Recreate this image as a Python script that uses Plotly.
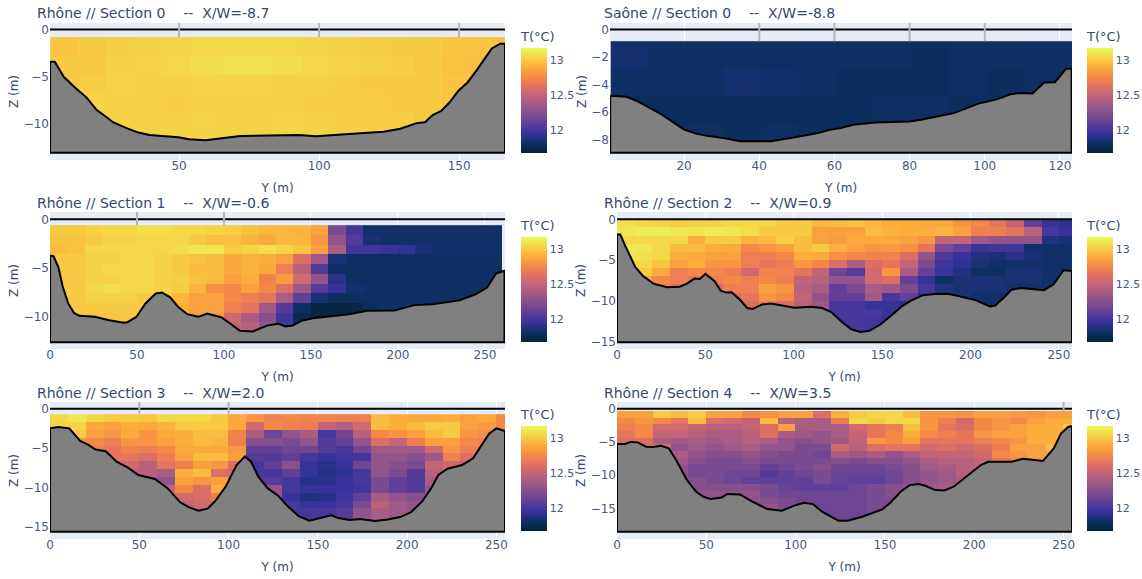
import plotly.graph_objects as go

W, H = 1142, 579
NB = "\u00a0"
TITLES = [f"Rhône // Section 0{NB*4}--{NB*2}X/W=-8.7", f"Saône // Section 0{NB*4}--{NB*2}X/W=-8.8",
          f"Rhône // Section 1{NB*4}--{NB*2}X/W=-0.6", f"Rhône // Section 2{NB*4}--{NB*2}X/W=0.9",
          f"Rhône // Section 3{NB*4}--{NB*2}X/W=2.0", f"Rhône // Section 4{NB*4}--{NB*2}X/W=3.5"]

# bed profiles (Y, Z)
bed0_y = [3.9,5.6,8.8,12.7,17,20.5,23.8,26.4,31,35.5,39.4,49.7,53.6,59.5,65.3,71.8,92.6,99,108,116.5,123,129,134.8,137.8,140.6,143.6,146.5,149.7,153,156.2,158.8,161.7,164.7,166.4]
bed0_z = [-3.4,-3.4,-5,-6.1,-7.2,-8.5,-9.2,-9.8,-10.4,-10.9,-11.15,-11.4,-11.6,-11.7,-11.5,-11.25,-11.15,-11.3,-11.1,-10.9,-10.8,-10.5,-9.9,-9.8,-9.05,-8.6,-7.75,-6.5,-5.6,-4.35,-3.3,-2,-1.5,-1.5]
bed1_y = [0.35,4.7,7.6,14,20,23.2,26.1,30.5,34.9,43.1,49.9,55.7,58.8,61.6,65,70.8,80,83,87,91.8,94.7,98.1,103.4,106.8,109.3,112.7,115.8,118.7,121.6,123.1]
bed1_z = [-4.8,-4.88,-5.2,-6.15,-7.25,-7.55,-7.7,-7.87,-8.1,-8.1,-7.8,-7.5,-7.27,-7.15,-6.9,-6.74,-6.67,-6.55,-6.33,-6.06,-5.75,-5.39,-5.05,-4.7,-4.6,-4.64,-3.84,-3.82,-2.85,-2.85]
bed2_y = [0,2,4.8,7.3,10.4,13.8,16.9,25.7,34,42.4,44.5,49.7,54.9,60.8,64.3,69.1,73.7,78.9,85.2,90.4,98.7,104,109.2,116.5,124.8,131.1,135.3,139.5,144.7,151,159.3,171.8,182.3,198,209.4,219.8,235.5,244.9,251.2,256.4,261.2]
bed2_z = [-3.7,-3.77,-4.9,-6.9,-8.6,-9.6,-9.9,-10,-10.35,-10.6,-10.55,-10,-8.63,-7.6,-7.5,-8,-9,-9.73,-10,-9.66,-10.07,-10.8,-11.44,-11.5,-10.9,-10.7,-11,-10.9,-10.4,-10.14,-10,-9.73,-9.38,-9.35,-8.8,-8.7,-8.3,-7.67,-7,-5.55,-5.27]
bed3_y = [0,1.9,4.5,10.3,14.9,20.6,28.3,35.5,39.6,43.8,46.9,50,55.1,58.6,61.9,64.8,69.6,73.7,76.8,82,87.1,94.3,100.5,109.8,116,121.2,127.4,132.5,137.7,142.8,149,155.2,161.4,166.6,172.8,180,187.2,192.4,202.7,211,214,219.2,223.3,228.5,235.7,241.5,247,252.6,257.4]
bed3_z = [-1.85,-1.85,-3.17,-5.84,-7,-7.9,-8.35,-8.27,-7.9,-7.28,-7.33,-6.7,-7.57,-8.77,-9,-8.97,-9.88,-10.9,-11,-10.45,-10.33,-10.6,-10.86,-10.74,-10.9,-11.4,-12.63,-13.5,-13.83,-13.7,-12.92,-11.8,-10.66,-9.96,-9.34,-9.18,-9.14,-9.38,-9.92,-10.7,-10.58,-9.55,-8.64,-8.44,-8.64,-8.72,-7.98,-6.25,-6.34]
bed4_y = [0,4.7,10.8,13.8,16.9,21,25.5,31.2,37.3,43.4,49.5,58.7,65.8,72.9,78,83.1,88.2,92.3,98.4,104.5,109.2,112.6,116.7,121.8,127.9,133,139.1,145.2,151.3,157.4,161.5,167.6,173.7,181.9,189,196.1,202.2,208.3,213.4,217.5,222.6,230.8,236.9,241,246,250,254.8]
bed4_z = [-2.5,-2.33,-2.5,-3.35,-4.1,-4.53,-5.2,-5.4,-6.74,-7.46,-8.43,-8.94,-10.1,-11.9,-12.54,-12.97,-12.7,-11.8,-9.9,-7.16,-6.06,-6.74,-8.64,-10.1,-11.1,-12.37,-13.64,-14.24,-13.94,-13.56,-13.9,-14.15,-14.03,-14.28,-14.07,-13.77,-13.14,-11.82,-10.13,-8.43,-7.63,-7.16,-6.31,-4.83,-3.14,-2.5,-2.84]
bed5_y = [0,4.5,7.6,11.6,16.3,20.4,24.5,29,33.1,39.2,44.3,48.4,52.5,58.6,61.7,68.8,76,84.2,92.3,98.5,104.6,109.7,114.8,124,129.1,137.3,148.5,153.6,158.7,163.8,168.9,173,178.1,183.2,188.4,195.5,203.7,207.8,221,227.2,233.3,238.4,244.5,248.6,252.7,254.7]
bed5_z = [-5.3,-5.3,-5,-5.07,-5.72,-5.77,-5.57,-5.97,-7.73,-10.74,-12.5,-13.25,-13.6,-13.35,-12.85,-12.9,-14,-15.1,-15.35,-14.65,-14.15,-14.35,-15.5,-16.86,-16.86,-16.26,-15.15,-14,-12.5,-11.5,-11.34,-11.64,-12.24,-12.3,-11.74,-10.24,-8.48,-7.98,-7.98,-7.53,-7.73,-7.88,-5.97,-3.71,-2.71,-2.66]
bed_floor = [-13.04, -8.93, -12.6, -15.1, -15.63, -18.5]

# temperature grids, one row per depth (top to bottom)
temp0 = [
 [12.98,13.0,13.02,13.03,13.04,13.05,13.05,13.05,13.05,13.04,13.03,13.02,13.01,13.0,12.98,12.98,12.96],
 [13.0,13.01,13.03,13.04,13.05,13.07,13.08,13.08,13.07,13.05,13.04,13.03,13.02,13.0,12.97,12.96,12.96],
 [13.0,13.02,13.04,13.03,13.03,13.04,13.04,13.04,13.03,13.03,13.02,13.01,13.0,13.0,12.98,12.97,12.97],
 [13.0,13.04,13.03,13.03,13.02,13.03,13.03,13.03,13.03,13.02,13.02,13.02,13.01,13.0,12.98,12.98,12.98],
 [13.0,13.02,13.03,13.03,13.03,13.04,13.03,13.03,13.04,13.03,13.02,13.02,13.02,13.0,13.0,12.97,12.97],
 [13.0,13.02,13.03,13.03,13.03,13.03,13.03,13.03,13.03,13.03,13.02,13.02,13.01,13.0,12.98,12.97,12.97]]
temp1 = [
 [11.83,11.81,11.80,11.81,11.80,11.81,11.80,11.80,11.79,11.80,11.80,11.81,11.81],
 [11.81,11.80,11.81,11.83,11.82,11.80,11.79,11.79,11.78,11.80,11.79,11.80,11.83],
 [11.78,11.78,11.79,11.79,11.79,11.78,11.79,11.80,11.81,11.79,11.79,11.78,11.78],
 [11.78,11.78,11.80,11.79,11.80,11.79,11.78,11.78,11.78,11.78,11.78,11.78,11.78]]
temp2 = [
 [13.0,13.0,13.03,13.05,13.05,13.07,13.07,13.05,13.05,13.03,13.02,12.97,12.93,12.93,12.92,12.85,12.2,12.0,11.82,11.82,11.82,11.82,11.82,11.82,11.82,11.82],
 [12.97,12.97,13.0,13.03,13.03,13.05,13.05,13.05,13.0,12.97,12.97,12.92,12.88,12.93,12.93,12.8,12.3,12.05,11.85,11.82,11.82,11.82,11.82,11.82,11.82,11.82],
 [12.95,12.97,13.05,13.05,13.05,13.05,13.05,13.07,13.1,13.1,13.0,13.03,13.08,13.03,12.98,12.85,12.4,11.98,11.98,11.95,11.92,11.85,11.82,11.82,11.82,11.82],
 [13.0,13.0,13.03,13.03,13.05,13.05,13.03,13.0,12.97,12.95,12.88,12.92,12.9,12.85,12.6,12.35,11.85,11.8,11.8,11.8,11.8,11.8,11.8,11.8,11.8,11.8],
 [13.0,13.0,13.03,13.05,13.05,13.05,13.03,13.0,12.95,12.95,12.88,12.92,12.88,12.7,12.45,12.05,11.8,11.8,11.8,11.8,11.8,11.8,11.81,11.81,11.81,11.81],
 [13.0,13.0,13.03,13.03,13.05,13.05,13.03,13.02,12.97,12.95,12.85,12.9,12.72,12.82,12.55,12.3,11.9,11.8,11.8,11.8,11.8,11.81,11.81,11.81,11.81,11.81],
 [13.0,13.0,13.05,13.07,13.05,13.05,13.03,13.0,12.92,12.78,12.75,12.85,12.75,12.6,12.35,12.05,11.95,11.83,11.81,11.81,11.81,11.81,11.81,11.81,11.81,11.81],
 [13.0,13.0,13.03,13.03,13.03,13.0,12.98,12.93,12.85,12.85,12.75,12.7,12.65,12.4,12.1,11.85,11.8,11.8,11.8,11.8,11.8,11.8,11.8,11.8,11.8,11.8],
 [13.0,13.0,13.0,13.0,13.0,13.0,13.0,12.9,12.85,12.85,12.7,12.65,12.35,12.05,11.8,11.72,11.7,11.72,11.78,11.8,11.8,11.8,11.8,11.8,11.8,11.8],
 [12.98,12.98,12.98,12.98,12.98,12.95,12.9,12.85,12.82,12.8,12.55,12.4,12.25,11.98,11.75,11.7,11.7,11.72,11.78,11.8,11.8,11.8,11.8,11.8,11.8,11.8],
 [12.95,12.95,12.95,12.95,12.95,12.9,12.9,12.85,12.8,12.7,12.5,12.45,12.3,12.0,11.75,11.7,11.7,11.72,11.78,11.8,11.8,11.8,11.8,11.8,11.8,11.8]]
temp3 = [
 [13.08,13.05,13.03,13.0,13.03,13.03,13.05,13.05,13.05,13.0,13.0,12.93,12.95,12.97,12.93,12.9,12.9,12.88,12.88,12.8,12.75,12.65,12.5,12.1,11.95,11.92],
 [13.1,13.13,13.13,13.1,13.1,13.12,13.1,13.07,13.0,13.0,13.0,12.85,12.85,12.85,12.95,12.92,12.9,12.9,12.92,12.85,12.7,12.7,12.65,12.45,12.0,11.95],
 [13.05,13.05,13.05,13.05,12.9,13.0,13.0,12.92,12.95,13.02,12.95,12.85,12.82,12.88,12.88,12.88,12.85,12.8,12.5,12.5,12.35,12.3,12.3,12.3,11.88,11.85],
 [13.1,13.1,13.05,12.95,12.95,12.9,12.88,12.75,12.8,12.85,12.95,13.0,12.9,12.85,12.8,12.82,12.78,12.65,12.2,12.1,11.95,11.98,11.98,11.82,11.82,11.82],
 [13.1,13.08,13.05,12.9,12.88,12.85,12.85,12.7,12.7,12.75,12.9,12.88,12.78,12.75,12.72,12.72,12.6,12.3,12.02,11.95,11.88,11.85,11.9,11.85,11.82,11.82],
 [13.05,13.05,12.98,12.85,12.9,12.8,12.8,12.7,12.65,12.7,12.8,12.75,12.6,12.4,12.6,12.65,12.5,12.2,11.98,11.92,11.85,11.82,11.82,11.82,11.82,11.82],
 [13.0,13.0,12.88,12.7,12.75,12.75,12.7,12.55,12.72,12.72,12.65,12.5,12.15,12.05,12.55,12.8,12.4,12.1,11.95,11.88,11.8,11.8,11.85,11.85,11.82,11.82],
 [12.85,12.85,12.75,12.7,12.65,12.7,12.75,12.7,12.75,12.7,12.5,12.45,12.3,12.3,12.55,12.6,12.1,11.95,11.8,11.85,11.85,11.85,11.85,11.85,11.82,11.82],
 [12.7,12.7,12.7,12.6,12.6,12.55,12.7,12.7,12.85,12.8,12.45,12.4,12.1,12.2,12.4,12.35,12.2,12.0,11.88,11.85,11.85,11.85,11.82,11.82,11.82,11.82],
 [12.6,12.6,12.6,12.6,12.6,12.6,12.6,12.65,12.8,12.75,12.5,12.3,12.1,12.1,12.35,12.0,12.1,11.9,11.85,11.85,11.82,11.82,11.82,11.82,11.82,11.82],
 [12.6,12.6,12.6,12.6,12.6,12.6,12.6,12.6,12.7,12.6,12.45,12.35,12.0,12.0,11.95,11.95,11.9,11.9,11.85,11.85,11.82,11.82,11.82,11.82,11.82,11.82],
 [12.5,12.5,12.5,12.5,12.5,12.5,12.5,12.5,12.5,12.4,12.3,12.2,12.0,12.0,12.0,11.95,11.95,11.9,11.85,11.85,11.82,11.82,11.82,11.82,11.82,11.82],
 [12.5,12.5,12.5,12.5,12.5,12.5,12.5,12.5,12.5,12.4,12.3,12.2,12.0,12.0,11.98,11.95,11.95,11.9,11.85,11.85,11.82,11.82,11.82,11.82,11.82,11.82],
 [12.5,12.5,12.5,12.5,12.5,12.5,12.5,12.5,12.5,12.4,12.3,12.2,12.0,12.0,11.98,11.95,11.95,11.9,11.85,11.85,11.82,11.82,11.82,11.82,11.82,11.82]]
temp4 = [
 [13.05,13.1,13.05,13.0,13.0,12.98,13.05,13.05,13.05,13.0,12.88,12.8,12.72,12.75,12.72,12.72,12.7,12.7,12.95,12.9,12.88,12.88,12.9,12.85,12.88,12.75],
 [13.03,13.03,12.88,12.85,12.9,12.88,12.92,13.0,13.0,13.0,12.88,12.55,12.75,12.72,12.68,12.5,12.42,12.55,12.95,12.9,12.95,13.0,13.0,12.85,12.82,12.75],
 [13.0,13.0,12.85,12.8,12.88,12.8,12.88,12.9,12.95,12.95,12.72,12.4,12.15,12.3,12.4,12.0,12.15,12.45,12.75,12.8,12.85,12.95,13.0,12.8,12.78,12.8],
 [12.8,12.8,12.75,12.7,12.8,12.8,12.85,12.9,12.95,12.92,12.7,12.25,12.25,12.2,12.3,12.05,12.1,12.3,12.6,12.5,12.7,12.85,12.85,12.75,12.7,12.7],
 [12.7,12.7,12.7,12.65,12.72,12.7,12.75,12.88,12.88,12.88,12.82,12.1,12.1,12.15,12.15,12.05,12.0,12.15,12.35,12.35,12.35,12.55,12.8,12.7,12.7,12.7],
 [12.65,12.65,12.65,12.65,12.65,12.6,12.7,12.85,12.95,12.95,12.85,12.05,12.05,12.1,12.0,11.95,11.98,12.0,12.3,12.3,12.25,12.35,12.72,12.6,12.6,12.5],
 [12.55,12.55,12.55,12.55,12.55,12.45,12.65,12.7,12.85,12.8,12.6,12.0,12.1,12.25,11.95,11.9,11.95,12.15,12.3,12.25,12.2,12.5,12.55,12.5,12.5,12.5],
 [12.45,12.45,12.45,12.45,12.45,12.45,12.4,12.9,12.95,12.6,12.55,12.0,12.0,12.1,11.95,11.88,11.92,12.0,12.3,12.2,12.05,12.45,12.6,12.5,12.5,12.5],
 [12.3,12.3,12.3,12.3,12.3,12.3,12.3,12.85,12.8,12.85,12.5,12.05,12.05,12.0,11.9,11.9,11.95,12.0,12.2,12.1,12.05,12.4,12.55,12.5,12.5,12.5],
 [12.5,12.5,12.5,12.5,12.5,12.5,12.5,12.75,12.6,12.9,12.5,12.3,12.3,12.0,11.95,11.95,11.95,11.98,12.2,12.1,12.05,12.3,12.4,12.4,12.4,12.4],
 [12.5,12.5,12.5,12.5,12.5,12.5,12.5,12.55,12.6,12.7,12.5,12.3,12.3,11.95,11.88,11.9,11.98,12.1,12.4,12.3,12.25,12.3,12.3,12.3,12.3,12.3],
 [12.5,12.5,12.5,12.5,12.5,12.5,12.5,12.5,12.55,12.55,12.5,12.3,12.3,12.0,11.95,11.95,12.0,12.2,12.45,12.35,12.3,12.3,12.3,12.3,12.3,12.3],
 [12.5,12.5,12.5,12.5,12.5,12.5,12.5,12.5,12.5,12.5,12.5,12.3,12.3,12.0,12.0,12.0,12.05,12.3,12.4,12.35,12.3,12.3,12.3,12.3,12.3,12.3],
 [12.5,12.5,12.5,12.5,12.5,12.5,12.5,12.5,12.5,12.5,12.5,12.3,12.3,12.0,12.0,12.0,12.05,12.3,12.4,12.35,12.3,12.3,12.3,12.3,12.3,12.3]]
temp5 = [
 [12.85,12.85,13.0,12.95,13.0,12.85,12.85,12.75,12.8,12.85,12.85,12.6,12.9,13.0,13.05,13.05,12.95,12.8,12.8,12.78,12.85,12.85,12.82,12.8,12.85,12.85],
 [12.75,12.8,12.75,12.65,12.95,12.6,12.55,12.5,12.95,12.45,12.4,12.4,12.7,13.05,13.0,13.05,13.05,12.8,12.7,12.55,12.75,12.8,12.75,12.85,12.9,12.9],
 [12.7,12.75,12.55,12.55,12.5,12.45,12.45,12.5,12.6,12.85,12.4,12.4,12.4,12.55,12.65,12.7,12.95,12.8,12.65,12.6,12.75,12.8,12.85,12.9,12.9,13.0],
 [12.65,12.75,12.5,12.5,12.45,12.4,12.4,12.45,12.6,12.4,12.35,12.3,12.4,12.5,12.65,12.75,12.9,12.75,12.7,12.65,12.8,12.85,12.85,12.9,12.9,13.0],
 [12.6,12.6,12.4,12.35,12.4,12.35,12.4,12.45,12.4,12.3,12.25,12.3,12.35,12.5,12.8,12.75,12.85,12.65,12.65,12.65,12.7,12.75,12.8,12.9,12.9,12.9],
 [12.55,12.55,12.55,12.3,12.35,12.3,12.35,12.4,12.3,12.3,12.2,12.2,12.55,12.45,12.6,12.65,12.65,12.55,12.6,12.55,12.6,12.7,12.85,12.85,12.95,12.95],
 [12.4,12.4,12.4,12.4,12.3,12.25,12.25,12.3,12.25,12.2,12.2,12.15,12.4,12.35,12.4,12.3,12.4,12.5,12.5,12.5,12.55,12.75,12.8,12.85,12.85,12.85],
 [12.35,12.35,12.35,12.35,12.25,12.2,12.2,12.25,12.2,12.2,12.2,12.2,12.25,12.2,12.25,12.25,12.3,12.4,12.45,12.45,12.5,12.65,12.72,12.8,12.8,12.8],
 [12.3,12.3,12.3,12.3,12.2,12.2,12.2,12.2,12.1,12.15,12.2,12.25,12.15,12.15,12.15,12.2,12.25,12.35,12.4,12.45,12.5,12.55,12.6,12.6,12.6,12.6],
 [12.3,12.3,12.3,12.3,12.2,12.2,12.15,12.15,12.05,12.1,12.15,12.2,12.12,12.12,12.12,12.15,12.25,12.3,12.35,12.45,12.5,12.5,12.5,12.5,12.5,12.5],
 [12.3,12.3,12.3,12.3,12.25,12.2,12.15,12.1,12.1,12.1,12.1,12.2,12.12,12.1,12.08,12.15,12.25,12.3,12.35,12.4,12.4,12.4,12.4,12.4,12.4,12.4],
 [12.3,12.3,12.3,12.3,12.25,12.25,12.25,12.25,12.2,12.12,12.1,12.1,12.1,12.15,12.2,12.25,12.3,12.35,12.4,12.4,12.4,12.4,12.4,12.4,12.4,12.4],
 [12.3,12.3,12.3,12.3,12.3,12.3,12.3,12.3,12.2,12.15,12.15,12.15,12.15,12.15,12.2,12.25,12.3,12.3,12.3,12.3,12.3,12.3,12.3,12.3,12.3,12.3],
 [12.3,12.3,12.3,12.3,12.3,12.3,12.3,12.3,12.25,12.2,12.15,12.15,12.15,12.15,12.2,12.2,12.3,12.3,12.3,12.3,12.3,12.3,12.3,12.3,12.3,12.3],
 [12.3,12.3,12.3,12.3,12.3,12.3,12.3,12.3,12.3,12.2,12.15,12.15,12.15,12.15,12.2,12.2,12.3,12.3,12.3,12.3,12.3,12.3,12.3,12.3,12.3,12.3],
 [12.3,12.3,12.3,12.3,12.3,12.3,12.3,12.3,12.3,12.2,12.15,12.15,12.15,12.15,12.2,12.2,12.3,12.3,12.3,12.3,12.3,12.3,12.3,12.3,12.3,12.3],
 [12.3,12.3,12.3,12.3,12.3,12.3,12.3,12.3,12.3,12.2,12.15,12.12,12.12,12.12,12.2,12.2,12.3,12.3,12.3,12.3,12.3,12.3,12.3,12.3,12.3,12.3]]

BEDS = [(bed0_y,bed0_z),(bed1_y,bed1_z),(bed2_y,bed2_z),(bed3_y,bed3_z),(bed4_y,bed4_z),(bed5_y,bed5_z)]
TEMPS = [temp0,temp1,temp2,temp3,temp4,temp5]
# grid: x0, dx, y0, dy
GRID = [(9,10,-1.8,-2),(5.5,10,-1.85,-2),(5,10,-1.1,-1),(5,10,-0.5,-1),(5,10,-1.2,-1),(5,10,-0.85,-1)]
BOX = [(50,505,23,160),(610,1072,23,160),(50,505,212,349),(617,1072,212,349),(50,505,402,539),(617,1072,402,539)]
XR = [(3.9,166.4),(0.3,123.2),(0,261.5),(0,257.4),(0,254.8),(0,254.7)]
YR = [(-13.8,0.69),(-9.46,0.47),(-13.3,0.75),(-15.93,0.9),(-16.56,0.85),(-19.6,1.0)]
YDT = [5,2,5,5,5,5]
GRAY = [[50,100,150],[40,60,80,100],[50,100],[],[50,100],[250]]
HEATTOP = [-0.8,-0.85,-0.6,0,-0.7,-0.35]
CB = [(521,153),(1087,153),(521,342),(1087,342),(521,531),(1087,531)]
ZMIN, ZMAX = 11.67, 13.17
TICK = "#47597a"
TXT = "#34486b"

fig = go.Figure()
layout = {}
shapes = []
for i in range(6):
    n = "" if i == 0 else str(i+1)
    xa, ya = "x"+n, "y"+n
    x0,dx,y0,dy = GRID[i]
    xl,xr,yt,yb = BOX[i]
    cx,cb = CB[i]
    fig.add_trace(go.Heatmap(z=TEMPS[i], x0=x0, dx=dx, y0=y0, dy=dy, colorscale="Thermal", zmin=ZMIN, zmax=ZMAX,
        xaxis=xa, yaxis=ya, showlegend=False,
        colorbar=dict(title=dict(text="T(°C)", side="top", font=dict(size=13, color=TXT)), x=cx/W, xanchor="left", xpad=0, ypad=0,
                      thickness=26, lenmode="pixels", len=125, y=1-cb/H, yanchor="bottom",
                      outlinewidth=0, tickfont=dict(size=11, color=TICK), dtick=0.5)))
    by, bz = BEDS[i]
    fig.add_trace(go.Scatter(x=by+[by[-1],by[0],by[0]], y=bz+[bed_floor[i],bed_floor[i],bz[0]], mode="lines", fill="toself",
        fillcolor="#808080", line=dict(color="black", width=2), xaxis=xa, yaxis=ya, showlegend=False, hoverinfo="skip"))
    fig.add_trace(go.Scatter(x=list(XR[i]), y=[0,0], mode="lines", line=dict(color="black", width=2),
        xaxis=xa, yaxis=ya, showlegend=False, hoverinfo="skip"))
    layout["xaxis"+n] = dict(domain=[xl/W,xr/W], anchor=ya, range=list(XR[i]), automargin=False, showgrid=True,
        title=dict(text="Y (m)", font=dict(size=12, color=TXT), standoff=11), tickfont=dict(size=12, color=TICK), zeroline=False, ticklabelstandoff=-3)
    layout["yaxis"+n] = dict(domain=[1-yb/H,1-yt/H], anchor=xa, range=list(YR[i]), automargin=False,
        title=dict(text="Z (m)", font=dict(size=12, color=TXT), standoff=2), tickfont=dict(size=12, color=TICK), dtick=YDT[i], tick0=0, zeroline=False)
    for g in GRAY[i]:
        shapes.append(dict(type="line", xref=xa, yref=ya, x0=g, x1=g, y0=HEATTOP[i], y1=YR[i][1],
                           line=dict(color="#b4b6ba", width=2), layer="above"))

annots = [dict(text=TITLES[i], xref="paper", yref="paper", x=(35 if i%2==0 else 602)/W, y=1-([13.5,13.5,203,203,392.5,392.5][i])/H,
               xanchor="left", yanchor="middle", showarrow=False, font=dict(size=14, color=TXT)) for i in range(6)]
fig.update_layout(width=W, height=H, margin=dict(l=0,r=0,t=0,b=0), font=dict(family="DejaVu Sans", color=TXT),
                  plot_bgcolor="#E5ECF6", paper_bgcolor="white", shapes=shapes, annotations=annots, **layout)
fig.write_html("out.html", config={"displayModeBar": False},
               post_script="document.body.style.margin='0';document.documentElement.style.overflow='hidden';")
